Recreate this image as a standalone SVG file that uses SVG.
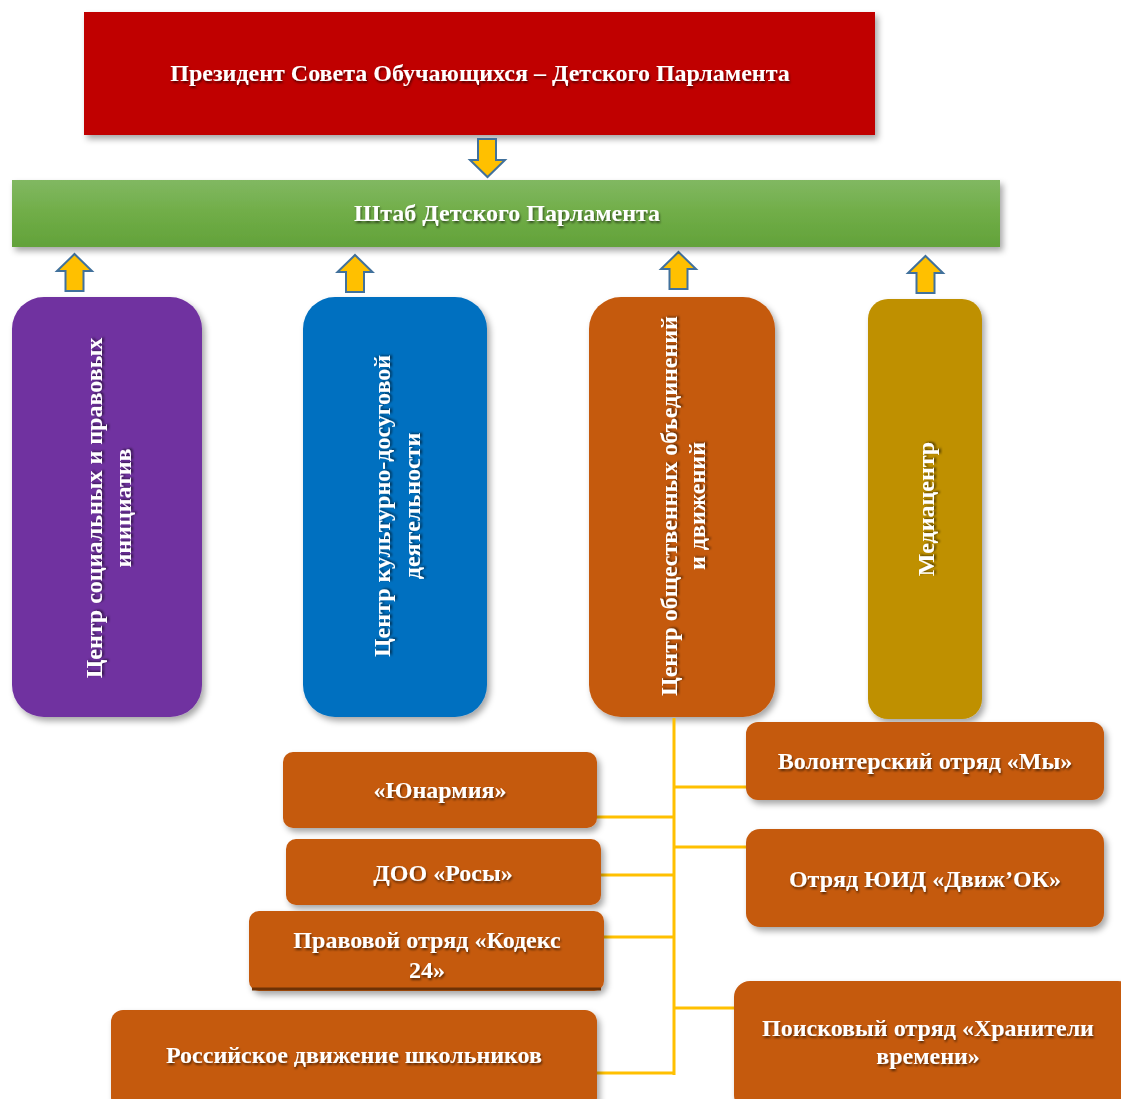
<svg xmlns="http://www.w3.org/2000/svg" xmlns:xlink="http://www.w3.org/1999/xlink" width="1121" height="1099" viewBox="0 0 1121 1099">
<defs>
  <linearGradient id="green" x1="0" y1="0" x2="0" y2="1">
    <stop offset="0" stop-color="#81B862"/>
    <stop offset="0.5" stop-color="#70AD47"/>
    <stop offset="1" stop-color="#62A23A"/>
  </linearGradient>
  <filter id="boxShadow" x="-10%" y="-10%" width="120%" height="125%">
    <feDropShadow dx="3" dy="4" stdDeviation="3" flood-color="#000" flood-opacity="0.35"/>
  </filter>
  <filter id="txtShadow" x="-5%" y="-20%" width="110%" height="160%">
    <feDropShadow dx="1" dy="2" stdDeviation="1" flood-color="#000" flood-opacity="0.55"/>
  </filter>
  <path id="up" d="M0 0 L17.5 17 L9 17 L9 37 L-9 37 L-9 17 L-17.5 17 Z"/>
</defs>
<style>
  .t { font-family: "Liberation Serif", "Times New Roman", serif; font-weight: bold; font-size: 24px; fill: #fff; text-anchor: middle; filter: url(#txtShadow); }
  .box { filter: url(#boxShadow); }
  .org { fill: #C55A11; }
  .arrow { fill: #FFC000; stroke: #41719C; stroke-width: 2; stroke-linejoin: miter; }
  .conn { stroke: #FFC000; stroke-width: 3; fill: none; }
</style>

<g id="president">
  <rect class="box" x="84" y="12" width="791" height="123" fill="#C00000"/>
  <text class="t" x="480" y="81">Президент Совета Обучающихся – Детского Парламента</text>
</g>

<g id="arrows">
  <path class="arrow" d="M478 139 L496 139 L496 160 L505 160 L487.5 177 L470 160 L478 160 Z"/>
  <use href="#up" class="arrow" x="74.5" y="254"/>
  <use href="#up" class="arrow" x="355" y="255"/>
  <use href="#up" class="arrow" x="678.5" y="252"/>
  <use href="#up" class="arrow" x="925.5" y="256"/>
</g>

<g id="shtab">
  <rect class="box" x="12" y="180" width="988" height="67" fill="url(#green)"/>
  <text class="t" x="507" y="221">Штаб Детского Парламента</text>
</g>

<g id="center-social">
  <rect class="box" x="12" y="297" width="190" height="420" rx="32" fill="#7030A0"/>
  <text class="t" transform="translate(102 508) rotate(-90)">Центр социальных и правовых</text>
  <text class="t" transform="translate(131 508) rotate(-90)">инициатив</text>
</g>

<g id="center-culture">
  <rect class="box" x="303" y="297" width="184" height="420" rx="32" fill="#0070C0"/>
  <text class="t" transform="translate(390 506) rotate(-90)">Центр культурно-досуговой</text>
  <text class="t" transform="translate(420 506) rotate(-90)">деятельности</text>
</g>

<g id="center-public">
  <rect class="box" x="589" y="297" width="186" height="420" rx="32" fill="#C55A11"/>
  <text class="t" transform="translate(677 506) rotate(-90)">Центр общественных объединений</text>
  <text class="t" transform="translate(705 506) rotate(-90)">и движений</text>
</g>

<g id="mediacenter">
  <rect class="box" x="868" y="299" width="114" height="420" rx="20" fill="#BF9000"/>
  <text class="t" transform="translate(934 509) rotate(-90)">Медиацентр</text>
</g>

<g id="connectors">
  <path class="conn" d="M674 718 L674 1075"/>
  <path class="conn" d="M674 787 L746 787"/>
  <path class="conn" d="M674 847 L746 847"/>
  <path class="conn" d="M674 1008 L734 1008"/>
  <path class="conn" d="M597 817 L674 817"/>
  <path class="conn" d="M601 875 L674 875"/>
  <path class="conn" d="M604 937 L674 937"/>
  <path class="conn" d="M597 1073 L675 1073"/>
</g>

<g id="yunarmiya">
  <rect class="box org" x="283" y="752" width="314" height="76" rx="10"/>
  <text class="t" x="440" y="798">«Юнармия»</text>
</g>

<g id="doo-rosy">
  <rect class="box org" x="286" y="839" width="315" height="66" rx="10"/>
  <text class="t" x="443" y="881">ДОО «Росы»</text>
</g>

<g id="kodeks">
  <rect class="box org" x="249" y="911" width="355" height="80" rx="10"/>
  <path d="M252 989 L601 989" stroke="#6E3206" stroke-width="3" fill="none"/>
  <text class="t" x="427" y="948">Правовой отряд «Кодекс</text>
  <text class="t" x="427" y="978">24»</text>
</g>

<g id="rdsh">
  <rect class="box org" x="111" y="1010" width="486" height="100" rx="12"/>
  <text class="t" x="354" y="1063">Российское движение школьников</text>
</g>

<g id="volonter">
  <rect class="box org" x="746" y="722" width="358" height="78" rx="12"/>
  <text class="t" x="925" y="769">Волонтерский отряд «Мы»</text>
</g>

<g id="yuid">
  <rect class="box org" x="746" y="829" width="358" height="98" rx="14"/>
  <text class="t" x="925" y="887">Отряд ЮИД «Движ’ОК»</text>
</g>

<g id="poiskovy">
  <rect class="box org" x="734" y="981" width="400" height="130" rx="16"/>
  <text class="t" x="928" y="1036">Поисковый отряд «Хранители</text>
  <text class="t" x="928" y="1064">времени»</text>
</g>
</svg>
